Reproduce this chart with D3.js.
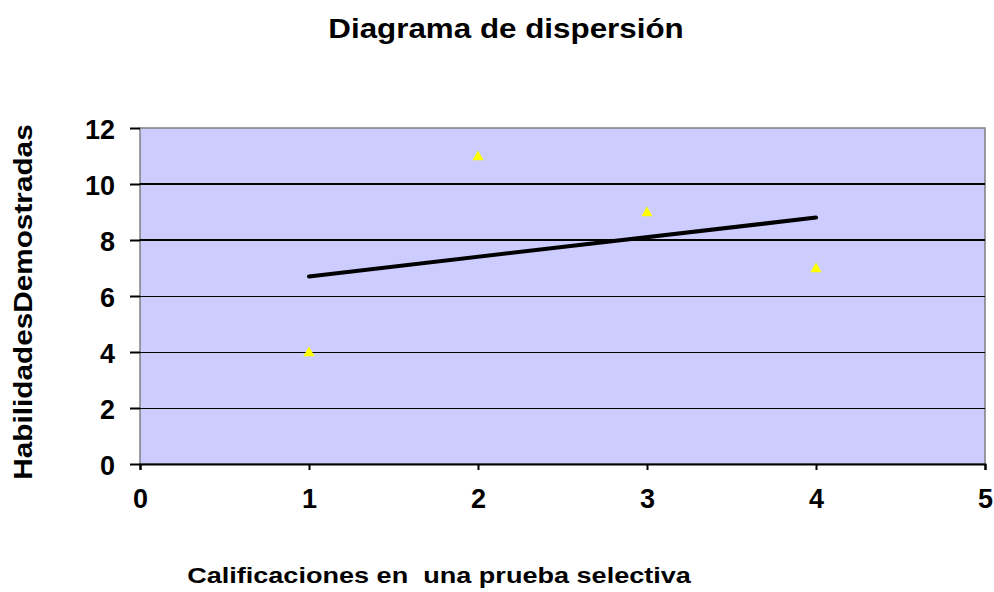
<!DOCTYPE html>
<html>
<head>
<meta charset="utf-8">
<script src="https://cdn.jsdelivr.net/npm/d3@7"></script>
<style>
  html, body { margin: 0; padding: 0; background: #fff; }
  svg text { font-family: "Liberation Sans", Arial, sans-serif; font-weight: bold; fill: #000; }
</style>
</head>
<body>
<svg id="chart" width="994" height="592"></svg>
<script>
// Scores on a selective test (x) vs. demonstrated skills (y)
const scores = [1, 2, 3, 4];
const skills = [4, 11, 9, 7];
const xTicks = [0, 1, 2, 3, 4, 5];
const yTicks = [0, 2, 4, 6, 8, 10, 12];

const svg = d3.select("#chart");
const plot = { left: 140, top: 128, right: 985, bottom: 464 };

const x = d3.scaleLinear().domain([0, 5]).range([plot.left, plot.right]);
const y = d3.scaleLinear().domain([0, 12]).range([plot.bottom, plot.top]);

// Plot background
svg.append("rect")
  .attr("x", plot.left).attr("y", plot.top)
  .attr("width", plot.right - plot.left).attr("height", plot.bottom - plot.top)
  .attr("fill", "#ccccff")
  .attr("stroke", "#808080").attr("stroke-width", 1.5);

// Horizontal gridlines
svg.append("g").selectAll("line")
  .data(yTicks.filter(d => d > 0 && d < 12))
  .join("line")
  .attr("x1", plot.left).attr("x2", plot.right)
  .attr("y1", d => y(d)).attr("y2", d => y(d))
  .attr("stroke", "#000")
  .attr("shape-rendering", "crispEdges")
  .attr("stroke-width", d => d >= 8 ? 2 : 1);

// Y axis
const yAxis = svg.append("g")
  .attr("transform", `translate(${plot.left},0)`)
  .call(d3.axisLeft(y).tickValues(yTicks).tickSize(10).tickFormat(d3.format("d")));
yAxis.select(".domain").remove();
yAxis.selectAll(".tick line").attr("stroke", "#000").attr("stroke-width", 2);
yAxis.selectAll(".tick text")
  .attr("x", -25).attr("dy", null).attr("y", 10)
  .style("font-size", "27px");

// X axis
const xAxis = svg.append("g")
  .attr("transform", `translate(0,${plot.bottom})`)
  .call(d3.axisBottom(x).tickValues(xTicks).tickSize(6).tickFormat(d3.format("d")));
xAxis.select(".domain").attr("stroke", "#000").attr("stroke-width", 2);
xAxis.selectAll(".tick line").attr("stroke", "#000").attr("stroke-width", 2);
xAxis.selectAll(".tick text")
  .attr("dy", null).attr("y", 44)
  .style("font-size", "27px");

// Least-squares trend line
const mx = d3.mean(scores), my = d3.mean(skills);
const slope = d3.sum(scores, (d, i) => (d - mx) * (skills[i] - my)) / d3.sum(scores, d => (d - mx) ** 2);
const intercept = my - slope * mx;
const ext = d3.extent(scores);
svg.append("line")
  .attr("x1", x(ext[0])).attr("y1", y(intercept + slope * ext[0]))
  .attr("x2", x(ext[1])).attr("y2", y(intercept + slope * ext[1]))
  .attr("stroke", "#000").attr("stroke-width", 4).attr("stroke-linecap", "round");

// Triangle markers
const tri = d3.symbol().type(d3.symbolTriangle).size(55);
svg.append("g").selectAll("path")
  .data(scores.map((d, i) => [d, skills[i]]))
  .join("path")
  .attr("d", tri)
  .attr("transform", d => `translate(${x(d[0])},${y(d[1]) + 1})`)
  .attr("fill", "#ffff00");

// Titles (drawn slightly widened horizontally)
function title(text, cx, cy, size, sx, rotate) {
  svg.append("text")
    .attr("transform", `translate(${cx},${cy})${rotate ? " rotate(-90)" : ""} scale(${sx},1)`)
    .attr("text-anchor", "middle")
    .attr("xml:space", "preserve")
    .style("white-space", "pre")
    .style("font-size", size + "px")
    .text(text);
}
title("Diagrama de dispersión", 506, 38, 28, 1.12, false);
title("Calificaciones en  una prueba selectiva", 439, 583, 22, 1.23, false);
title("HabilidadesDemostradas", 32, 302, 25, 1.19, true);
</script>
</body>
</html>
